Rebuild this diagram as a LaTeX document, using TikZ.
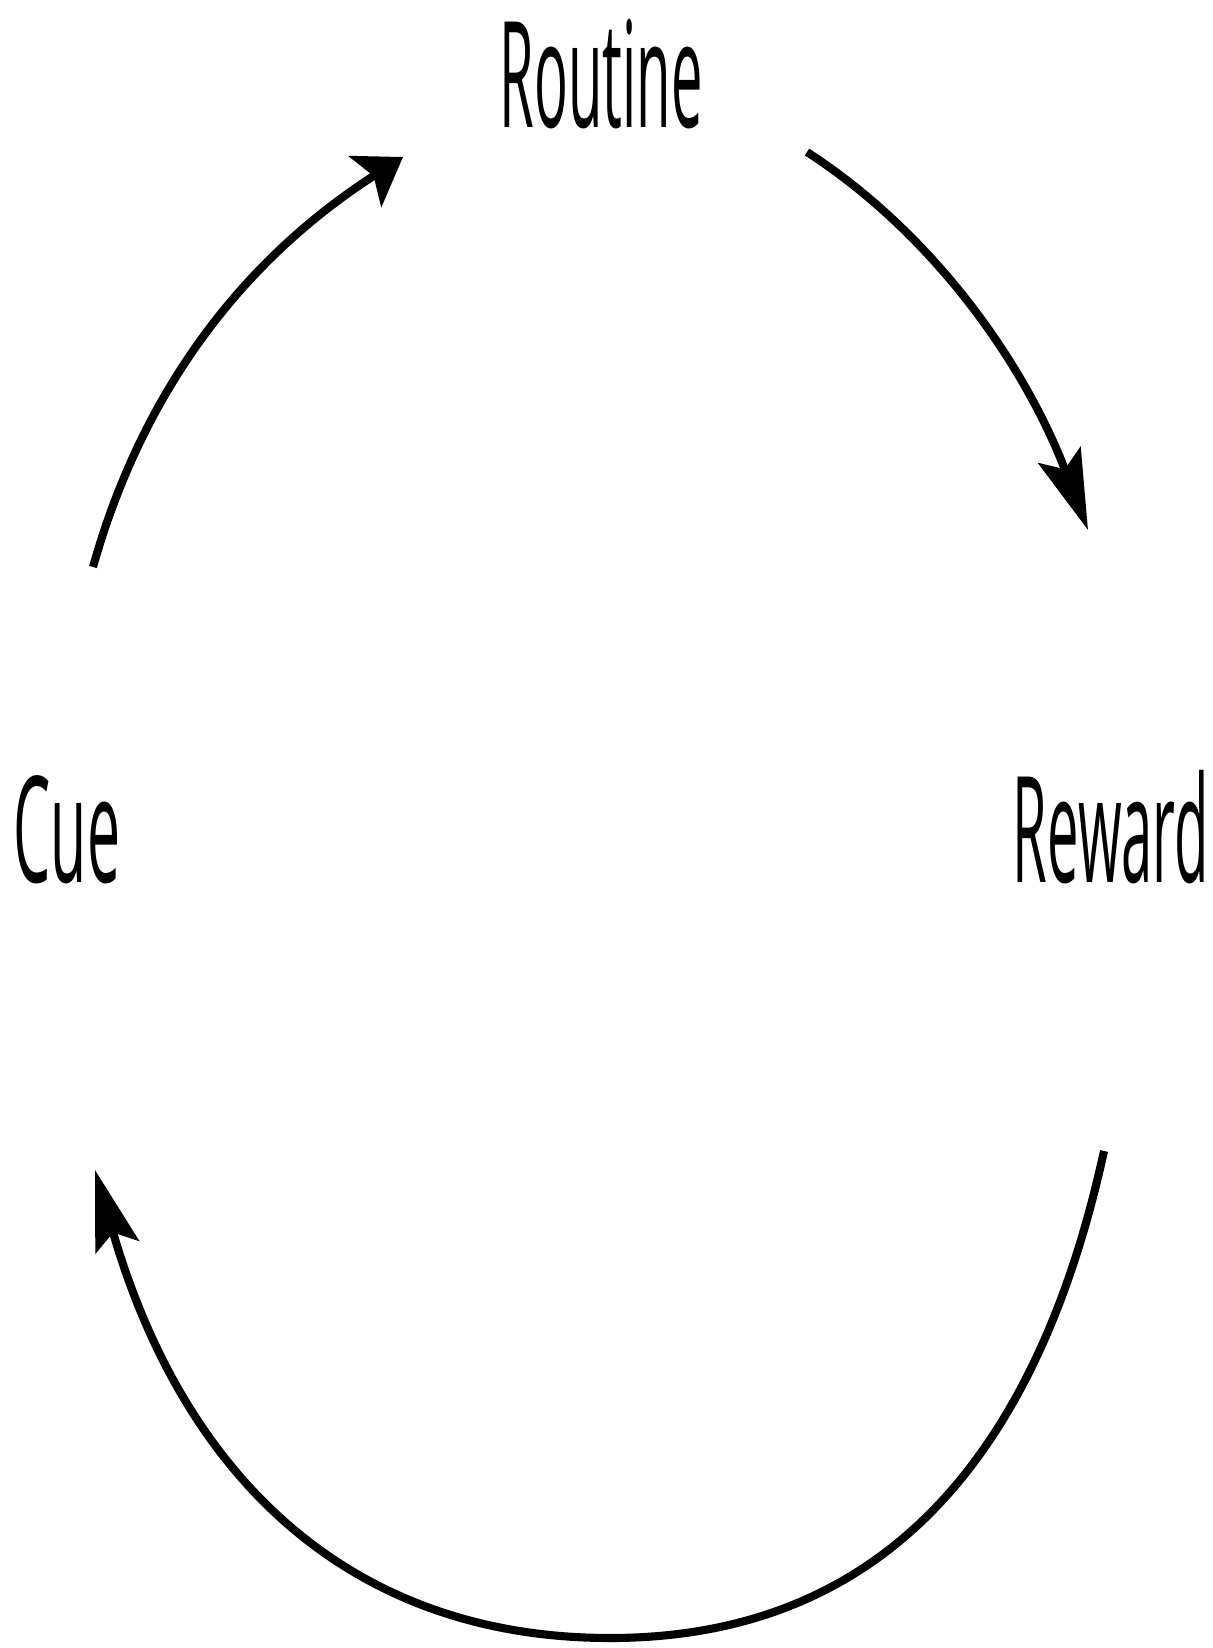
\documentclass[tikz,border=0pt]{standalone}
\usepackage{fontspec}
\setmainfont{Open Sans}
\usetikzlibrary{arrows.meta}

\begin{document}
\begin{tikzpicture}[
    x=0.01cm, y=-0.01cm,
    lbl/.style={font=\fontsize{42}{50}\selectfont, xscale=0.38, inner sep=0pt, anchor=base},
    flat/.style={-{Stealth[length=4.5mm, width=6mm, inset=1mm]}, line width=2.3pt},
    steep/.style={-{Stealth[length=8mm, width=4.5mm, inset=1.5mm]}, line width=2.3pt},
]
  \useasboundingbox (0,0) rectangle (1213,1648);

  % Labels
  \node[lbl] (routine) at (601,127) {Routine};
  \node[lbl, xscale=1.05] (cue) at (67,882) {Cue};
  \node[lbl] (reward) at (1111,882) {Reward};

  % Arc ends
  \coordinate (cueout) at (93,567);
  \coordinate (routinein) at (403,157);
  \coordinate (routineout) at (807,152);
  \coordinate (rewardin) at (1088,530);
  \coordinate (rewardout) at (1104,1151);
  \coordinate (bottom) at (610,1638);
  \coordinate (cuein) at (95,1170);

  % Loop
  \draw[flat] (cueout) .. controls (140,400) and (235,265) .. (routinein);
  \draw[steep] (routineout) .. controls (935,235) and (1025,365) .. (rewardin);
  \draw[steep] (rewardout) .. controls (1030,1490) and (856,1638) .. (bottom)
               .. controls (357,1638) and (186,1485) .. (cuein);
\end{tikzpicture}
\end{document}
